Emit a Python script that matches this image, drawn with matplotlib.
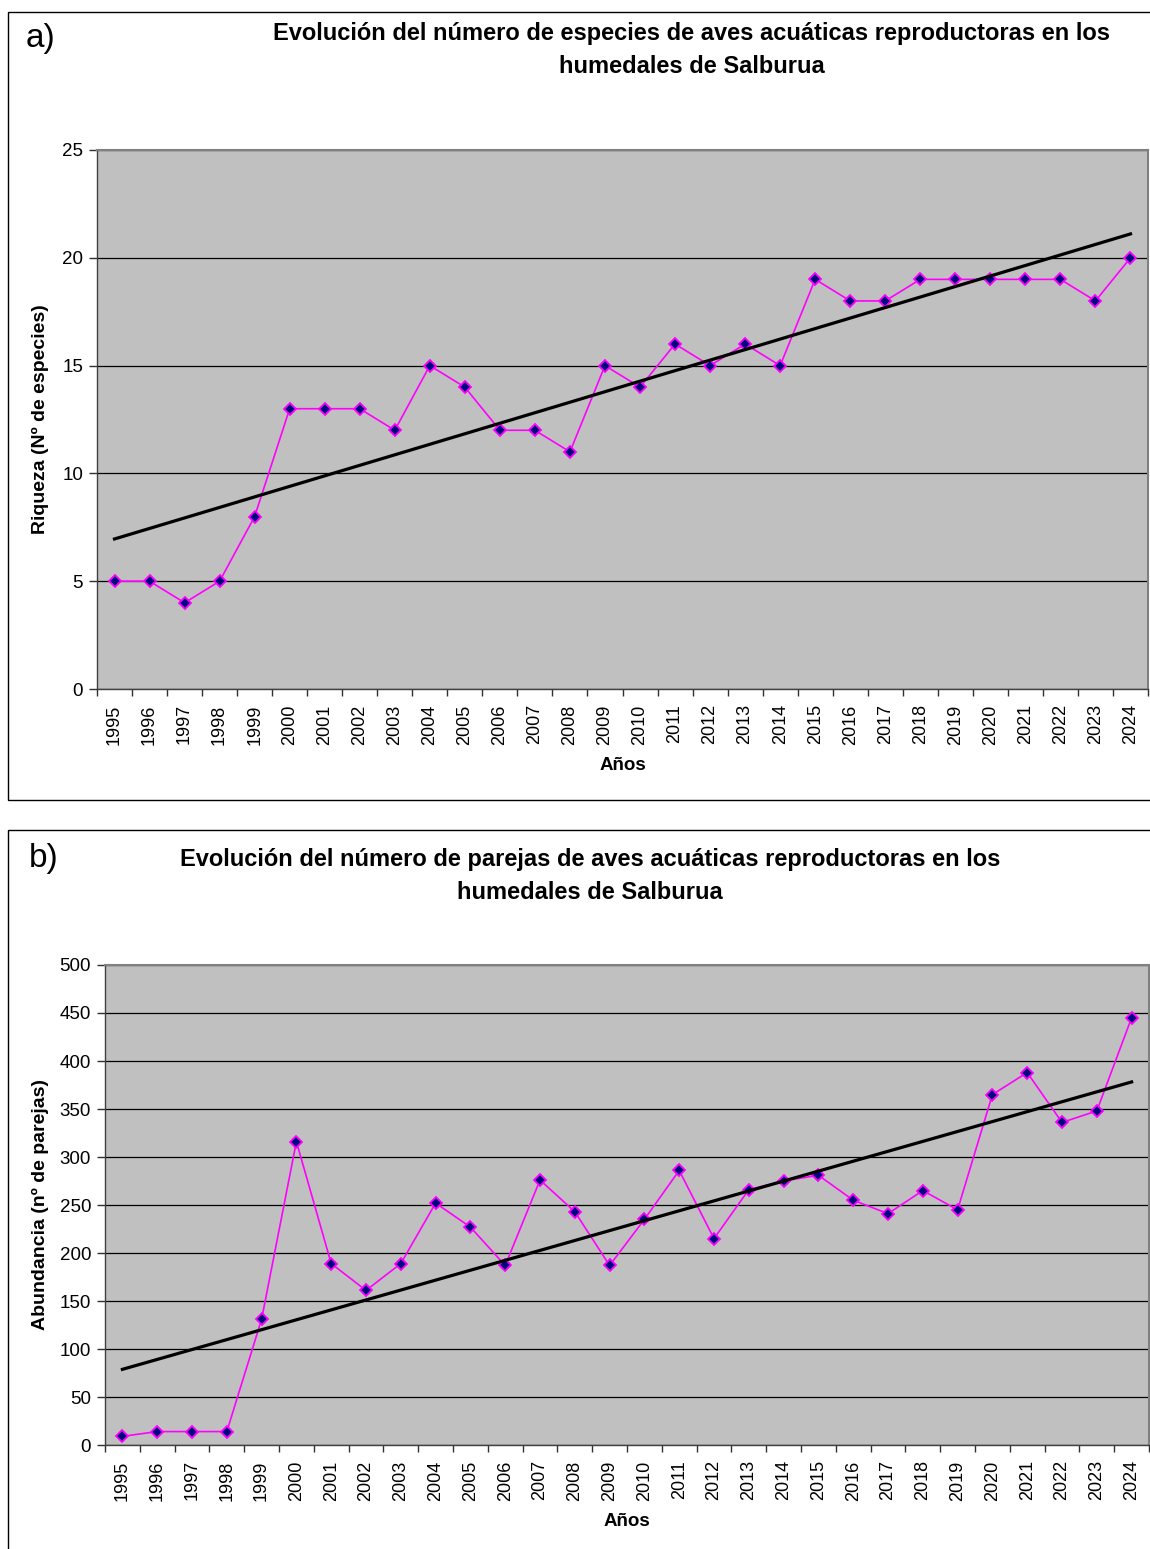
import numpy as np
import matplotlib
matplotlib.use("Agg")
import matplotlib.pyplot as plt
from matplotlib.patches import Rectangle

plt.rcParams['font.family'] = ['Liberation Sans', 'DejaVu Sans']

years = [str(y) for y in range(1995, 2025)]
especies = [5, 5, 4, 5, 8, 13, 13, 13, 12, 15, 14, 12, 12, 11, 15,
            14, 16, 15, 16, 15, 19, 18, 18, 19, 19, 19, 19, 19, 18, 20]
parejas = [9, 14, 14, 14, 131, 316, 189, 161, 189, 252, 227, 187, 276, 243, 187,
           235, 286, 215, 266, 275, 281, 255, 241, 265, 245, 365, 388, 336, 348, 445]

title_a = "Evolución del número de especies de aves acuáticas reproductoras en los\nhumedales de Salburua"
title_b = "Evolución del número de parejas de aves acuáticas reproductoras en los\nhumedales de Salburua"

W, H = 1150, 1549
fig = plt.figure(figsize=(W / 100, H / 100), dpi=100)
fig.patch.set_facecolor('white')


def fx(px):
    return px / W


def fy(py):
    return 1 - py / H


# panel frames
fig.patches.append(Rectangle((fx(8), fy(800)), fx(1200), fy(12) - fy(800),
                             transform=fig.transFigure, fill=False,
                             edgecolor='black', linewidth=1.0))
fig.patches.append(Rectangle((fx(8), fy(1600)), fx(1200), fy(830) - fy(1600),
                             transform=fig.transFigure, fill=False,
                             edgecolor='black', linewidth=1.0))


def make_panel(rect, values, ymax, ystep, ylabel):
    ax = fig.add_axes(rect)
    ax.set_facecolor('#C0C0C0')
    x = np.arange(len(values))
    ax.set_xlim(-0.5, len(values) - 0.5)
    ax.set_ylim(0, ymax)
    ax.set_yticks(np.arange(0, ymax + 1, ystep))
    ax.yaxis.grid(True, color='black', linewidth=0.9)
    ax.set_axisbelow(True)
    ax.set_xticks(x)
    ax.set_xticklabels(years, rotation=90, fontsize=13)
    ax.set_xticks(np.arange(-0.5, len(values), 1), minor=True)
    ax.tick_params(axis='x', which='major', length=0, pad=11)
    ax.tick_params(axis='x', which='minor', length=5, width=1, color='#303030', direction='out')
    ax.tick_params(axis='y', length=6, width=1, color='#303030', labelsize=13.5, pad=4)
    for s in ['top', 'right']:
        ax.spines[s].set_color('#808080')
        ax.spines[s].set_linewidth(1.5)
    for s in ['left', 'bottom']:
        ax.spines[s].set_color('#404040')
        ax.spines[s].set_linewidth(1.0)
    ax.plot(x, values, color='#FF00FF', linewidth=1.2, marker='D', markersize=6,
            markerfacecolor='#000080', markeredgecolor='#FF00FF', markeredgewidth=1.3,
            zorder=3)
    coef = np.polyfit(x, values, 1)
    ax.plot(x, np.polyval(coef, x), color='black', linewidth=2.3, zorder=4)
    ax.set_ylabel(ylabel, fontsize=14, fontweight='bold')
    ax.set_xlabel('Años', fontsize=13.5, fontweight='bold', labelpad=9)
    return ax


ax1 = make_panel([fx(97), fy(689), fx(1148) - fx(97), fy(150) - fy(689)],
                 especies, 25, 5, 'Riqueza (Nº de especies)')
ax2 = make_panel([fx(105), fy(1445), fx(1149) - fx(105), fy(965) - fy(1445)],
                 parejas, 500, 50, 'Abundancia (nº de parejas)')
ax1.yaxis.set_label_coords((49 - 97) / (1148 - 97), 0.5)
ax2.yaxis.set_label_coords((49 - 105) / (1149 - 105), 0.5)

fig.text(fx(692), fy(50), title_a, ha='center', va='center', fontsize=17,
         fontweight='bold', linespacing=1.6)
fig.text(fx(590), fy(876), title_b, ha='center', va='center', fontsize=17,
         fontweight='bold', linespacing=1.6)
fig.text(fx(26), fy(38), 'a)', ha='left', va='center', fontsize=24)
fig.text(fx(29), fy(858), 'b)', ha='left', va='center', fontsize=24)

fig.savefig('out.png', dpi=100)
